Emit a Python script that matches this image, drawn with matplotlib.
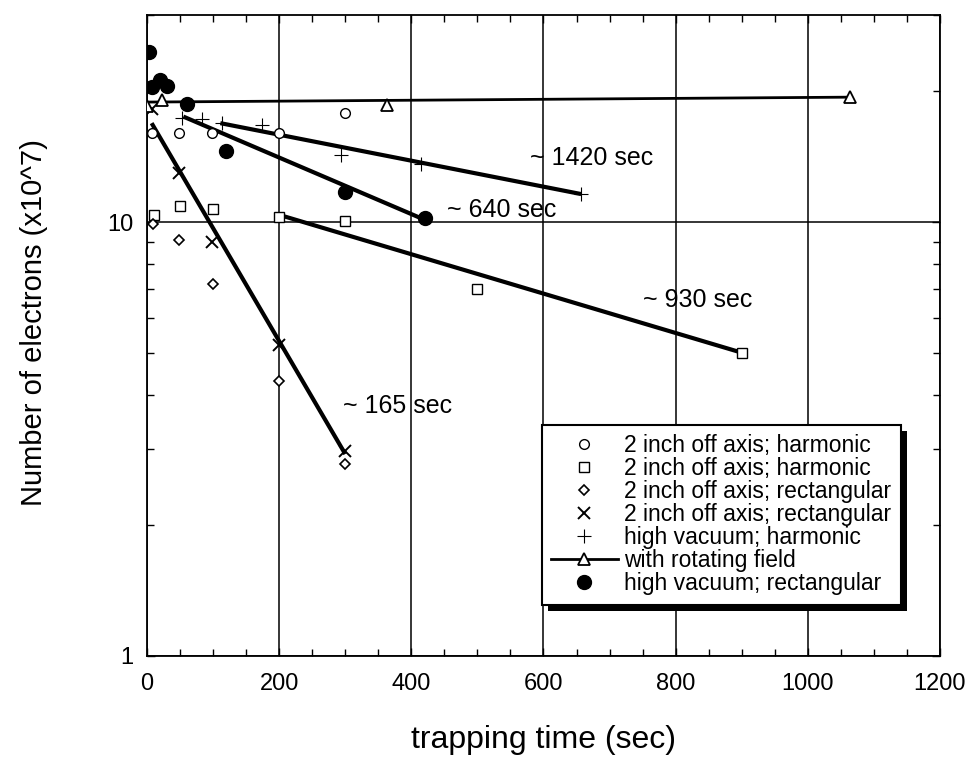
import matplotlib
matplotlib.use('Agg')
import matplotlib.pyplot as plt
from matplotlib.lines import Line2D
from matplotlib.patches import Rectangle
from matplotlib.ticker import MultipleLocator, LogLocator, FixedLocator, FixedFormatter, NullFormatter

plt.rcParams['font.family'] = ['Liberation Sans', 'DejaVu Sans']

# ---- data ----
t_circle = [8, 49, 98, 200, 300]
n_circle = [16.0, 16.0, 16.0, 16.0, 17.8]

t_square = [10, 50, 100, 200, 300, 500, 900]
n_square = [10.4, 10.9, 10.7, 10.25, 10.05, 7.0, 5.0]

t_diamond = [9, 49, 100, 199, 300]
n_diamond = [9.9, 9.07, 7.2, 4.3, 2.77]

t_cross = [7, 49, 98, 200, 300]
n_cross = [18.2, 13.0, 9.0, 5.2, 2.97]

t_plus = [53, 83, 113, 174, 293, 414, 657]
n_plus = [17.4, 17.3, 16.9, 16.7, 14.3, 13.6, 11.6]

t_tri = [0, 23, 363, 1064]
n_tri = [18.5, 19.1, 18.6, 19.4]

t_dot = [3, 7, 20, 30, 60, 120, 300, 420]
n_dot = [24.6, 20.5, 21.2, 20.6, 18.7, 14.6, 11.75, 10.2]

# fitted decay lines (end points)
fit165_t, fit165_n = [7, 300], [16.9, 2.92]
fit640_t, fit640_n = [55, 415], [17.5, 10.2]
fit930_t, fit930_n = [199, 900], [10.4, 5.0]
fit1420_t, fit1420_n = [111, 657], [16.9, 11.6]
rot_t, rot_n = [0, 1064], [18.9, 19.4]

legend_labels = ['2 inch off axis; harmonic', '2 inch off axis; harmonic',
                 '2 inch off axis; rectangular', '2 inch off axis; rectangular',
                 'high vacuum; harmonic', 'with rotating field',
                 'high vacuum; rectangular']

x_ticks = [0, 200, 400, 600, 800, 1000, 1200]
y_ticks = [1, 10]
y_ticklabels = ['1', '10']

# ---- figure ----
fig = plt.figure(figsize=(9.7, 7.66), dpi=100)
ax = fig.add_axes([147 / 970, 1 - 656 / 766, 793 / 970, 641 / 766])
ax.set_yscale('log')
ax.set_xlim(0, 1200)
ax.set_ylim(1, 30)

ax.xaxis.set_major_locator(FixedLocator(x_ticks))
ax.xaxis.set_minor_locator(MultipleLocator(50))
ax.yaxis.set_major_locator(FixedLocator(y_ticks))
ax.yaxis.set_major_formatter(FixedFormatter(y_ticklabels))
ax.yaxis.set_minor_locator(LogLocator(base=10, subs=range(2, 10)))
ax.yaxis.set_minor_formatter(NullFormatter())

ax.grid(which='major', color='black', lw=1.1)
ax.set_axisbelow(True)
for s in ax.spines.values():
    s.set_linewidth(1.3)
ax.tick_params(which='both', direction='in', top=True, right=True, width=1.0,
               labelsize=17, colors='black')
ax.tick_params(which='major', length=6)
ax.tick_params(which='minor', length=5)
ax.tick_params(axis='x', which='major', pad=12)
ax.tick_params(axis='y', which='major', pad=10)

# fit lines
lw_fit = 3.0
ax.plot(fit165_t, fit165_n, color='black', lw=lw_fit, solid_capstyle='butt', zorder=3)
ax.plot(fit640_t, fit640_n, color='black', lw=lw_fit, solid_capstyle='butt', zorder=3)
ax.plot(fit930_t, fit930_n, color='black', lw=lw_fit, solid_capstyle='butt', zorder=3)
ax.plot(fit1420_t, fit1420_n, color='black', lw=lw_fit, solid_capstyle='butt', zorder=3)
ax.plot(rot_t, rot_n, color='black', lw=2.0, zorder=3)

# data markers
ax.plot(t_circle, n_circle, ls='none', marker='o', ms=7, mfc='white', mec='black', mew=1.0, zorder=4)
ax.plot(t_square, n_square, ls='none', marker='s', ms=7, mfc='white', mec='black', mew=1.0, zorder=4)
ax.plot(t_diamond, n_diamond, ls='none', marker='D', ms=5.5, mfc='white', mec='black', mew=1.2, zorder=4)
ax.plot(t_cross, n_cross, ls='none', marker='x', ms=9, mec='black', mew=1.4, zorder=4)
ax.plot(t_plus, n_plus, ls='none', marker='+', ms=10, mec='black', mew=0.8, zorder=4)
ax.plot(t_tri, n_tri, ls='none', marker='^', ms=8, mfc='white', mec='black', mew=1.3, zorder=4)
ax.plot(t_dot, n_dot, ls='none', marker='o', ms=10, mfc='black', mec='black', zorder=4)

# annotations
fs_ann = 18
ax.text(580, 14.05, '~ 1420 sec', fontsize=fs_ann, ha='left', va='center')
ax.text(454, 10.66, '~ 640 sec', fontsize=fs_ann, ha='left', va='center')
ax.text(751, 6.61, '~ 930 sec', fontsize=fs_ann, ha='left', va='center')
ax.text(297, 3.77, '~ 165 sec', fontsize=fs_ann, ha='left', va='center')

ax.set_xlabel('trapping time (sec)', fontsize=23, labelpad=22)
ax.set_ylabel('Number of electrons (x10^7)', fontsize=21)
ax.yaxis.set_label_coords(-0.125, 0.52)

# legend
handles = [
    Line2D([], [], ls='none', marker='o', ms=7, mfc='white', mec='black', mew=1.0),
    Line2D([], [], ls='none', marker='s', ms=7, mfc='white', mec='black', mew=1.0),
    Line2D([], [], ls='none', marker='D', ms=5.5, mfc='white', mec='black', mew=1.2),
    Line2D([], [], ls='none', marker='x', ms=9, mec='black', mew=1.4),
    Line2D([], [], ls='none', marker='+', ms=10, mec='black', mew=0.8),
    Line2D([], [], color='black', lw=2.0, marker='^', ms=8, mfc='white', mec='black', mew=1.3),
    Line2D([], [], ls='none', marker='o', ms=10, mfc='black', mec='black'),
]
leg = ax.legend(handles, legend_labels, loc='upper left', bbox_to_anchor=(0.498, 0.360),
                borderaxespad=0, fontsize=16.5, frameon=True, fancybox=False,
                edgecolor='black', framealpha=1, handlelength=2.9, handletextpad=0.3,
                labelspacing=0.0, borderpad=0.4, numpoints=1)
leg.get_frame().set_linewidth(1.5)
leg.set_zorder(6)

fig.canvas.draw()
bb = leg.get_window_extent()
inv = ax.transAxes.inverted()
(x0, y0), (x1, y1) = inv.transform([(bb.x0 + 6, bb.y0 - 6), (bb.x1 + 6, bb.y1 - 6)])
ax.add_patch(Rectangle((x0, y0), x1 - x0, y1 - y0, transform=ax.transAxes,
                       facecolor='black', edgecolor='none', zorder=5.5, clip_on=False))

fig.savefig('out.png', dpi=100)
